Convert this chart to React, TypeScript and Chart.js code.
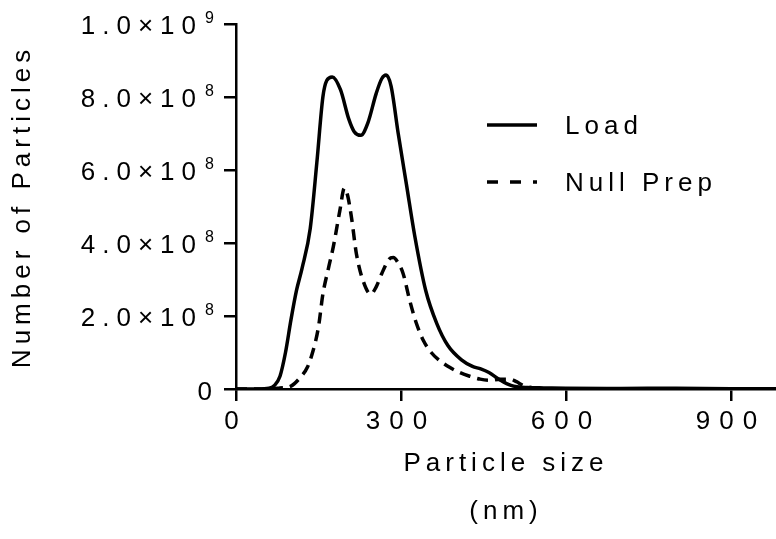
import { useEffect, useRef } from 'react';
import { Chart, registerables } from 'chart.js';

Chart.register(...registerables);

// ---- data ----
const SERIES_LABELS = ['Load', 'Null Prep'];

const LOAD_SIZES = [0, 40, 60, 70, 80, 90, 100, 110, 120, 135, 147, 158, 165, 175, 190, 205, 215, 227, 240, 255, 265, 273, 282, 295, 310, 325, 345, 365, 385, 410, 430, 445, 460, 480, 500, 530, 560, 600, 700, 800, 900, 982];
const LOAD_VALUES = [0, 0, 0.02e8, 0.1e8, 0.35e8, 1.0e8, 1.9e8, 2.7e8, 3.3e8, 4.4e8, 6.2e8, 8.0e8, 8.45e8, 8.55e8, 8.2e8, 7.4e8, 7.05e8, 6.95e8, 7.3e8, 8.1e8, 8.5e8, 8.6e8, 8.3e8, 7.0e8, 5.6e8, 4.2e8, 2.7e8, 1.8e8, 1.2e8, 0.8e8, 0.62e8, 0.55e8, 0.45e8, 0.25e8, 0.1e8, 0.04e8, 0.03e8, 0.02e8, 0.015e8, 0.02e8, 0.01e8, 0.01e8];

const NULL_SIZES = [0, 60, 80, 100, 116, 130, 140, 150, 158, 168, 177, 189, 197, 203, 210, 219, 231, 245, 255, 265, 278, 286, 295, 304, 316, 328, 341, 355, 371, 390, 407, 425, 444, 462, 480, 498, 510, 522, 540, 560, 580];
const NULL_VALUES = [0, 0, 0.03e8, 0.08e8, 0.3e8, 0.6e8, 1.04e8, 1.7e8, 2.6e8, 3.3e8, 3.9e8, 4.9e8, 5.5e8, 5.3e8, 4.7e8, 3.7e8, 2.97e8, 2.6e8, 2.8e8, 3.16e8, 3.55e8, 3.6e8, 3.45e8, 3.16e8, 2.42e8, 1.8e8, 1.32e8, 1.0e8, 0.77e8, 0.58e8, 0.45e8, 0.35e8, 0.27e8, 0.24e8, 0.27e8, 0.27e8, 0.2e8, 0.1e8, 0.03e8, 0.01e8, 0];

const X_TICKS = [0, 300, 600, 900];
const Y_TICKS = [0, 2e8, 4e8, 6e8, 8e8, 1e9];
const X_MIN = 0;
const X_MAX = 982;
const Y_MIN = 0;
const Y_MAX = 1e9;
const X_TITLE = ['Particle size', '(nm)'];
const Y_TITLE = 'Number of Particles';

// ---- style ----
const FONT = "'Liberation Sans', Arial, sans-serif";
const FS = 26;
const LS_TEXT = '5px';
const LS_TICKS = 9;
const LS_YTICKS = 7;
const DASH = [11, 7];
const LEGEND_DASH = [11, 12];

const textPlugin = {
  id: 'customText',
  beforeUpdate(chart: any) {
    chart.ctx.letterSpacing = LS_TEXT;
  },
  beforeDraw(chart: any) {
    chart.ctx.letterSpacing = LS_TEXT;
  },
  beforeDatasetsDraw(chart: any) {
    chart.ctx.letterSpacing = `${LS_TICKS}px`;
  },
  afterDraw(chart: any) {
    const ctx = chart.ctx as CanvasRenderingContext2D;
    const ys = chart.scales.y;
    ctx.save();
    ctx.fillStyle = '#000';
    ctx.textAlign = 'right';
    ctx.textBaseline = 'middle';
    for (const t of ys.ticks) {
      const y = ys.getPixelForValue(t.value);
      if (t.value === 0) {
        (ctx as any).letterSpacing = `${LS_YTICKS}px`;
        ctx.font = `${FS}px ${FONT}`;
        ctx.fillText('0', 212 + LS_YTICKS, y + 4);
        continue;
      }
      const e = Math.floor(Math.log10(t.value) + 1e-9);
      const m = (t.value / Math.pow(10, e)).toFixed(1);
      (ctx as any).letterSpacing = '0px';
      ctx.font = `16px ${FONT}`;
      ctx.fillText(String(e), 214, y - 5);
      (ctx as any).letterSpacing = `${LS_YTICKS}px`;
      ctx.font = `${FS}px ${FONT}`;
      ctx.fillText(`${m}×10`, 196 + LS_YTICKS, y + 3);
    }
    // legend
    (ctx as any).letterSpacing = LS_TEXT;
    chart.data.datasets.forEach((ds: any, i: number) => {
      const y = 125 + i * 57;
      ctx.beginPath();
      ctx.setLineDash(ds.borderDash ? LEGEND_DASH : []);
      ctx.lineWidth = 3.5;
      ctx.strokeStyle = '#000';
      ctx.moveTo(487, y);
      ctx.lineTo(537, y);
      ctx.stroke();
      ctx.setLineDash([]);
      ctx.textAlign = 'left';
      ctx.font = `${FS}px ${FONT}`;
      ctx.fillText(ds.label, 565, y + 2);
    });
    ctx.restore();
  },
};

export default function App() {
  const ref = useRef<HTMLCanvasElement | null>(null);
  useEffect(() => {
    if (!ref.current) return;
    const chart = new Chart(ref.current, {
      type: 'line',
      data: {
        datasets: [
          {
            label: SERIES_LABELS[0],
            data: LOAD_SIZES.map((x, i) => ({ x, y: LOAD_VALUES[i] })),
            borderColor: '#000',
            borderWidth: 3.5,
            pointRadius: 0,
            cubicInterpolationMode: 'monotone',
            fill: false,
          },
          {
            label: SERIES_LABELS[1],
            data: NULL_SIZES.map((x, i) => ({ x, y: NULL_VALUES[i] })),
            borderColor: '#000',
            borderWidth: 3.5,
            borderDash: DASH,
            pointRadius: 0,
            cubicInterpolationMode: 'monotone',
            fill: false,
          },
        ],
      },
      options: {
        animation: false,
        responsive: false,
        layout: { padding: { left: 0, top: 24, right: 0, bottom: 0 } },
        plugins: { legend: { display: false }, tooltip: { enabled: false } },
        scales: {
          x: {
            type: 'linear',
            min: X_MIN,
            max: X_MAX,
            afterBuildTicks: (s: any) => { s.ticks = X_TICKS.map((v) => ({ value: v })); },
            afterFit: (s: any) => { s.height = 150; },
            grid: { drawOnChartArea: false, drawTicks: true, tickLength: 12, color: '#000', lineWidth: 2.5 },
            border: { display: true, color: '#000', width: 2.5 },
            ticks: { color: '#000', font: { family: FONT, size: FS }, padding: 5, maxRotation: 0, z: 1 },
            title: {
              display: true,
              text: X_TITLE,
              color: '#000',
              font: { family: FONT, size: FS, lineHeight: 1.85 },
              padding: { top: 0, bottom: 3 },
            },
          },
          y: {
            type: 'linear',
            min: Y_MIN,
            max: Y_MAX,
            afterBuildTicks: (s: any) => { s.ticks = Y_TICKS.map((v) => ({ value: v })); },
            afterFit: (s: any) => { s.width = 236; },
            grid: { drawOnChartArea: false, drawTicks: true, tickLength: 12, color: '#000', lineWidth: 2.5 },
            border: { display: true, color: '#000', width: 2.5 },
            ticks: { display: false },
            title: {
              display: true,
              text: Y_TITLE,
              color: '#000',
              font: { family: FONT, size: FS },
              padding: { top: 7, bottom: 0 },
            },
          },
        },
      },
      plugins: [textPlugin],
    } as any);
    return () => chart.destroy();
  }, []);
  return (
    <div style={{ position: 'absolute', left: 0, top: 0, width: 776, height: 539 }}>
      <canvas ref={ref} width={776} height={539} style={{ display: 'block' }} />
    </div>
  );
}
